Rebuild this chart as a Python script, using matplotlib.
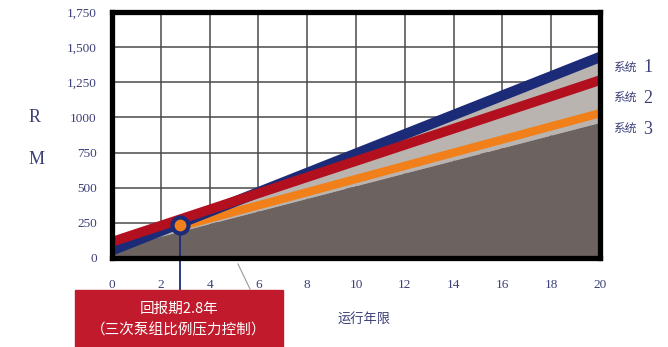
import matplotlib
matplotlib.use("Agg")
import matplotlib.pyplot as plt
from matplotlib.patches import Rectangle
from matplotlib.lines import Line2D

# payback chart: three system cost lines over 20 years of operation
years = [0, 20]
sys1 = [55, 1430]        # 系统 1
sys2 = [115, 1265]       # 系统 2
sys3_years = [2.8, 20]
sys3 = [225, 1030]       # 系统 3
base = [65, 965]         # dark gray area under the lines
payback_year = 2.8
payback_value = 235

xticks = [0, 2, 4, 6, 8, 10, 12, 14, 16, 18, 20]
yticks = [0, 250, 500, 750, 1000, 1250, 1500, 1750]
ytick_labels = ["0", "250", "500", "750", "1000", "1,250", "1,500", "1,750"]
series_labels = ["1", "2", "3"]

NAVY, RED, ORANGE = "#1c2b78", "#b3101f", "#f2801a"
DARK, LIGHT, INK = "#6c6260", "#b9b4b0", "#3c3f78"
SERIF = ["Liberation Serif", "DejaVu Serif"]
CJK = ["Noto Sans CJK SC", "DejaVu Sans"]

fig = plt.figure(figsize=(6.68, 3.47), dpi=100)
ax = fig.add_axes([112 / 668, 89 / 347, 488 / 668, 246 / 347])

ax.fill_between(years, base, sys1, color=LIGHT, zorder=2, linewidth=0)
ax.fill_between(years, 0, base, color=DARK, zorder=2.1, linewidth=0)
ax.plot(sys3_years, sys3, color=ORANGE, lw=6, solid_capstyle="butt", zorder=3)
ax.plot(years, sys1, color=NAVY, lw=7.5, solid_capstyle="butt", zorder=3.1)
ax.plot(years, sys2, color=RED, lw=7, solid_capstyle="butt", zorder=3.2)

# payback marker with leader down to the caption box
ax.plot([payback_year, payback_year], [payback_value, -228], color=NAVY,
        lw=1.3, clip_on=False, zorder=3.3)
ax.plot([payback_year], [payback_value], "o", ms=11.5, mfc=ORANGE, mec=NAVY,
        mew=3, zorder=4, clip_on=False)

ax.set_xlim(0, 20)
ax.set_ylim(0, 1750)
ax.set_xticks(xticks)
ax.set_yticks(yticks)
ax.set_yticklabels(ytick_labels)
ax.grid(True, color="#4a4a4a", lw=1.1, zorder=1)
ax.set_axisbelow(True)
ax.tick_params(length=0, labelsize=9.5, labelcolor=INK)
ax.tick_params(axis="x", pad=15)
ax.tick_params(axis="y", pad=11)
for lab in ax.get_xticklabels() + ax.get_yticklabels():
    lab.set_family(SERIF)
for s in ax.spines.values():
    s.set_linewidth(3.8)
    s.set_color("black")
    s.set_zorder(5)

# series labels to the right of the plot
for lab, py in zip(series_labels, [68, 98, 129]):
    fig.text(613 / 668, 1 - py / 347, "系统", family=CJK, fontsize=8.5,
             color=INK, va="center", ha="left")
    fig.text(643 / 668, 1 - py / 347, lab, family=SERIF, fontsize=13,
             color=INK, va="center", ha="left")

fig.text(35 / 668, 1 - 118 / 347, "R", family=SERIF, fontsize=13, color=INK,
         ha="center", va="center")
fig.text(37 / 668, 1 - 160 / 347, "M", family=SERIF, fontsize=13, color=INK,
         ha="center", va="center")
fig.text(364 / 668, 1 - 320 / 347, "运行年限", family=CJK, fontsize=9.5,
         color=INK, ha="center", va="center")

# caption box
fig.patches.append(Rectangle((75 / 668, 0), 208 / 668, 57 / 347,
                             transform=fig.transFigure, color="#c01a2c",
                             zorder=1))
fig.text(179 / 668, 1 - 309 / 347, "回报期2.8年", family=CJK, fontsize=10.5,
         color="white", ha="center", va="center", zorder=2)
fig.text(179 / 668, 1 - 330 / 347, "（三次泵组比例压力控制）", family=CJK,
         fontsize=10.5, color="white", ha="center", va="center", zorder=2)

fig.lines.append(Line2D([238 / 668, 250 / 668], [1 - 264 / 347, 1 - 289 / 347],
                        transform=fig.transFigure, color="#9a9a9a", lw=0.8))

fig.savefig("out.png", dpi=100)
